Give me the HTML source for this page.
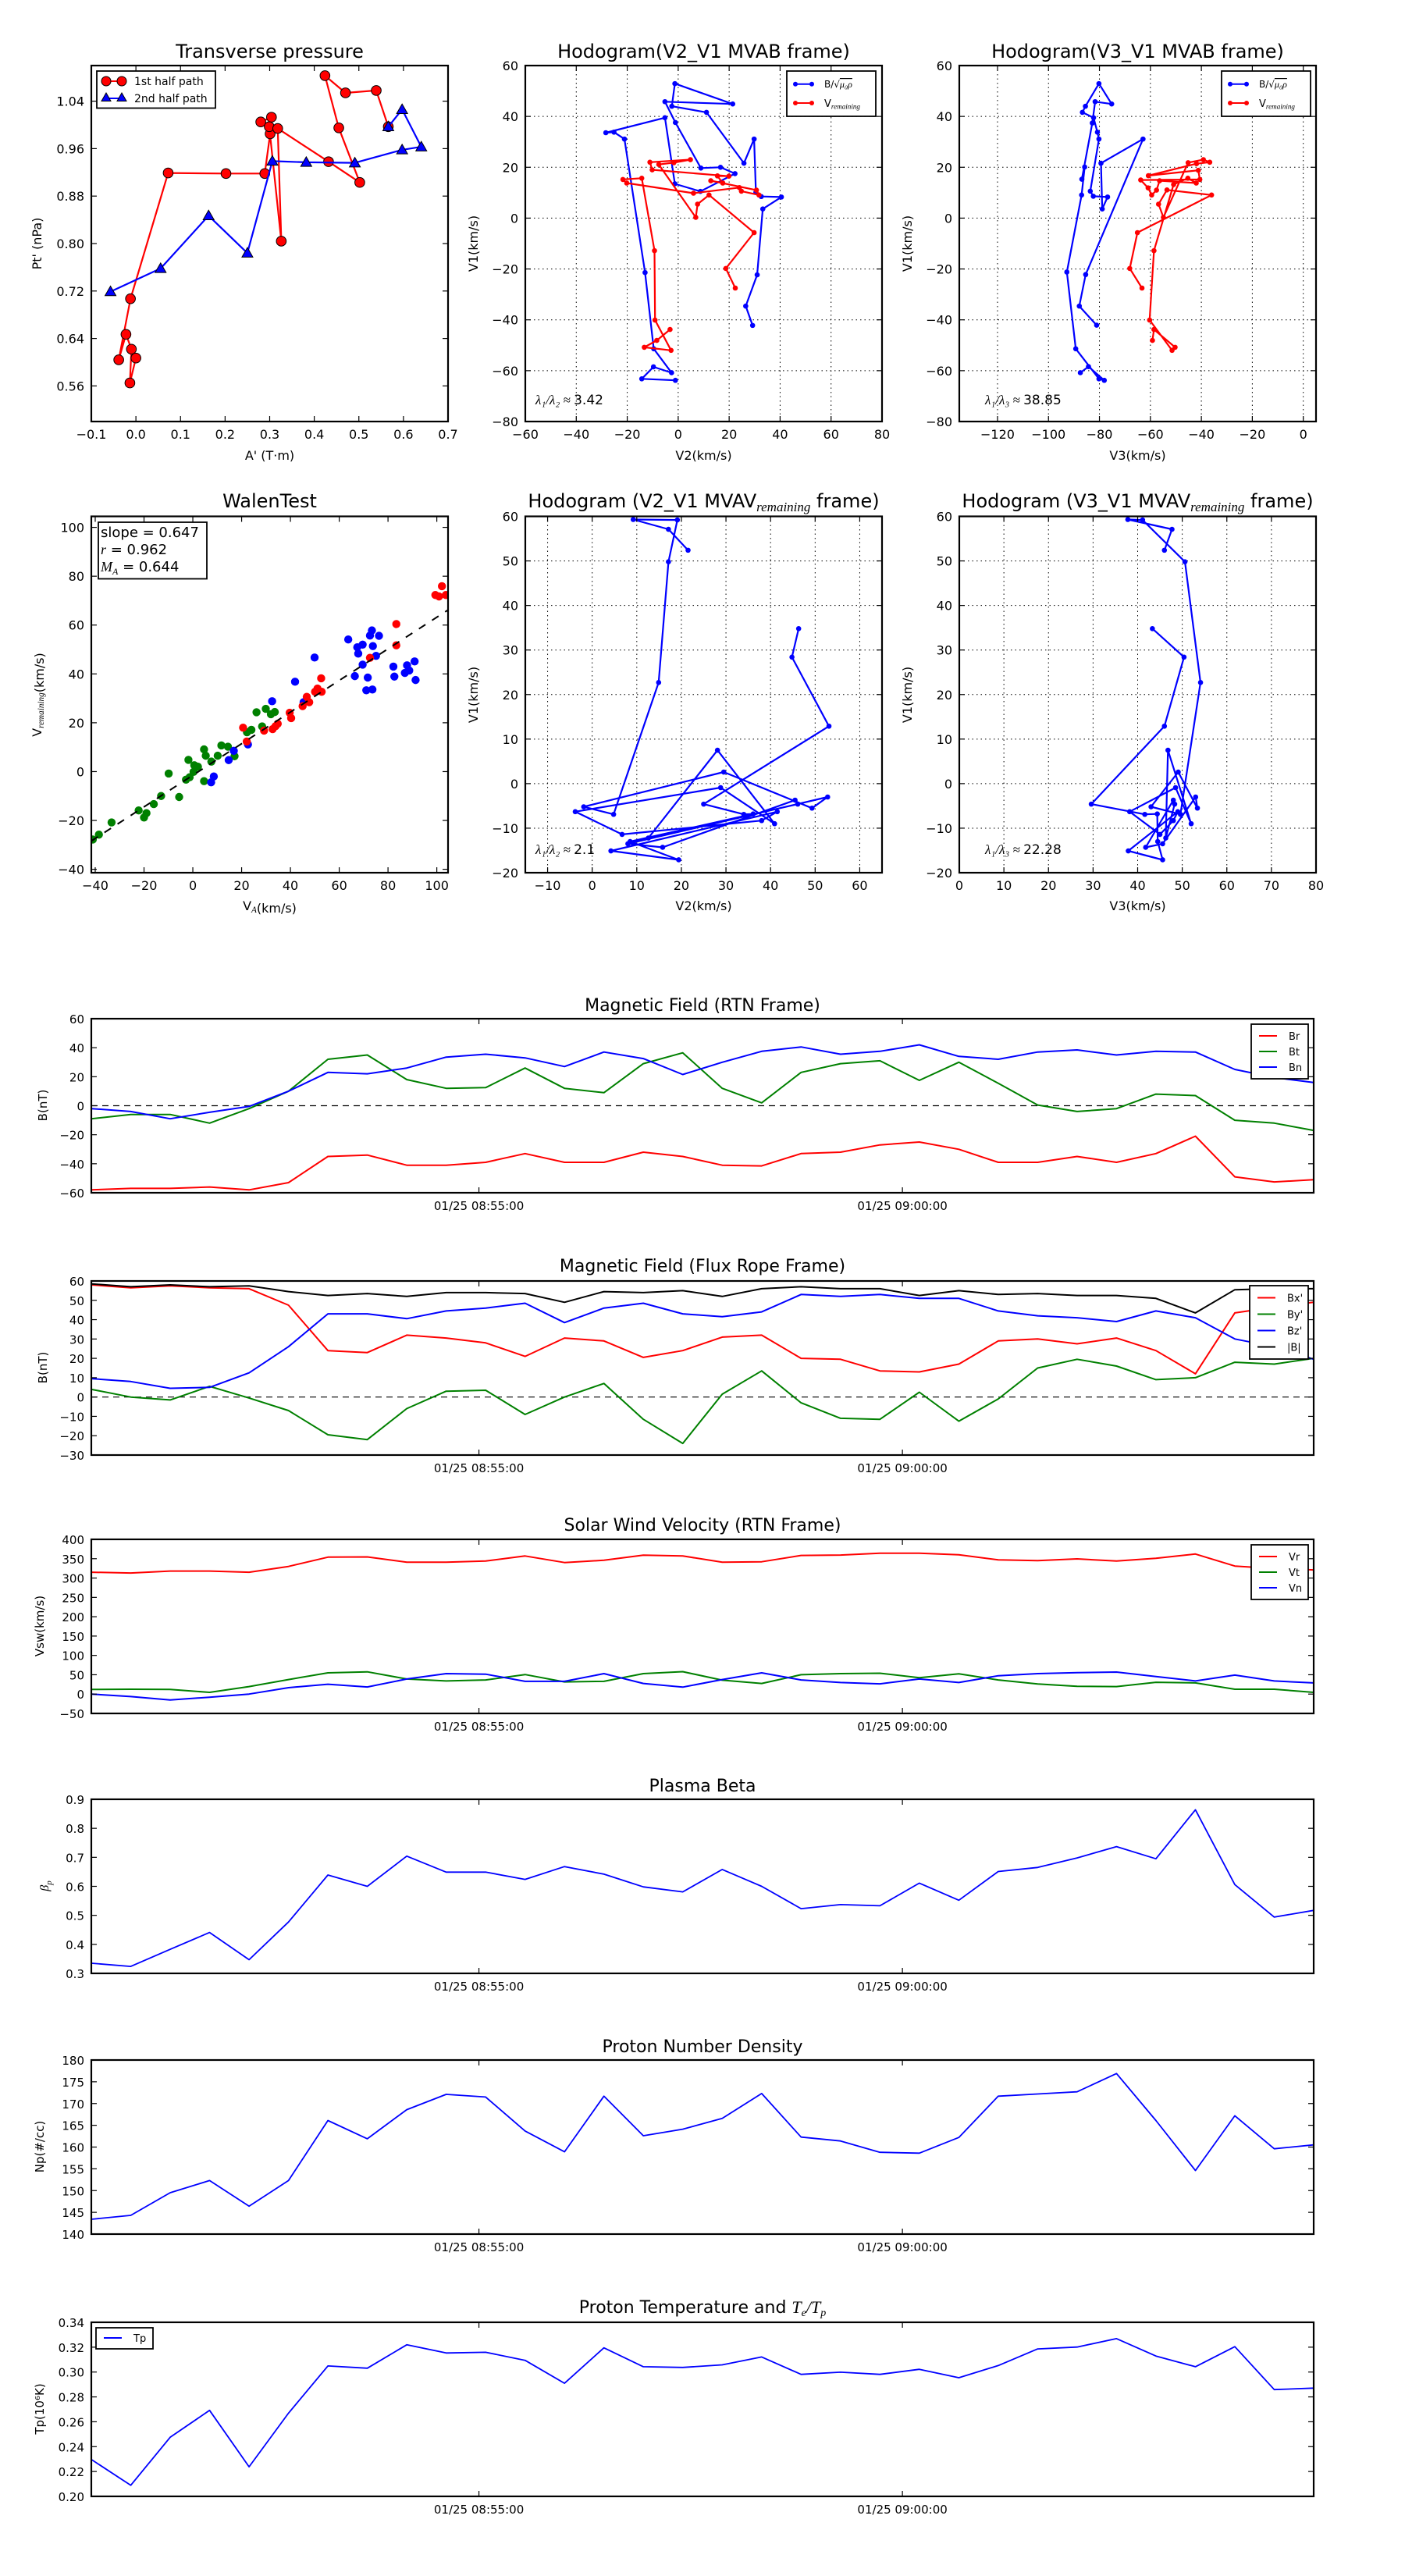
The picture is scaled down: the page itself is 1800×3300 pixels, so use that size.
<!DOCTYPE html>
<html><head><meta charset="utf-8"><style>
html,body{margin:0;padding:0;background:#fff;}
svg{display:block;font-family:"DejaVu Sans","Liberation Sans",sans-serif;}
</style></head><body>
<svg id="fig" xmlns="http://www.w3.org/2000/svg" width="1800" height="3300" viewBox="0 0 1800 3300">
<rect x="0" y="0" width="1800" height="3300" fill="#fff"/>
</svg>
<script>
// ===== Transverse pressure data =====
const tpRedA=[0.0,-0.0135,-0.0101,-0.0223,-0.0385,-0.0122,0.0723,0.202,0.289,0.301,0.304,0.280,0.299,0.326,0.318,0.432,0.502,0.455,0.424,0.470,0.539,0.566];
const tpRedP=[0.607,0.565,0.622,0.647,0.604,0.707,0.919,0.918,0.918,0.985,1.013,1.005,0.997,0.804,0.994,0.938,0.903,0.995,1.083,1.054,1.058,0.997];
const tpBlueA=[-0.057,0.0554,0.163,0.250,0.306,0.382,0.491,0.597,0.640,0.597,0.566];
const tpBlueP=[0.719,0.758,0.847,0.784,0.939,0.937,0.936,0.958,0.963,1.026,0.997];
// ===== Hodogram V2_V1 MVAB =====
const h1BV2=[29.2,26.5,31,33.2,40.5,32.6,30.5,29.8,25.8,11.1,-2.5,-1.3,21.4,-5.2,-1.1,8.9,16.6,22.3,8.7,-1.3,-5.2,-28.4,-25.2,-21.1,-13,-9.6,-2.6,-9.7,-14.3,-1.1];
const h1BV1=[-42.2,-34.6,-22.3,3.6,8.3,8.5,10.2,31.1,21.6,41.6,44.0,52.9,44.9,45.8,37.6,19.7,20.0,17.5,10.5,13.5,39.5,33.6,33.8,31.1,-21.4,-51.4,-60.8,-58.5,-63.2,-63.8];
const h1RV2=[22.4,18.7,29.8,12.1,7.6,6.9,-7.6,-1.7,4.8,-11.1,-10.2,19.9,15.4,17.5,12.8,30.7,31.7,24.8,24.0,6,-20.2,-21.7,-14.3,-9.3,-9.1,-2.8,-13.3,-8.4,-3.2];
const h1RV1=[-27.5,-19.8,-5.7,9.1,5.5,0.3,21.1,21.8,23.0,22.0,19.0,16.5,16.6,13.8,14.7,11.0,9.1,10.6,12.0,9.8,13.8,15.2,15.7,-12.8,-40.1,-52,-50.8,-48.1,-43.8];
// ===== Hodogram V3_V1 MVAB =====
const h2BV3=[-81.1,-87.9,-85.4,-62.9,-79.4,-78.9,-76.8,-82.4,-83.6,-80.2,-80.8,-82.3,-86.7,-85.5,-80.2,-75.2,-81.7,-82.8,-86.9,-85.8,-87.0,-92.8,-89.3,-80.2,-78.1,-84.3,-87.5];
const h2BV1=[-42.1,-34.6,-22.2,31.1,21.6,3.6,8.3,8.6,10.6,31.1,33.8,39.5,41.6,44.0,52.9,44.9,45.8,37.4,15.3,20.1,9.1,-21.2,-51.4,-63.2,-63.8,-58.4,-60.8];
const h2RV3=[-63.3,-68.1,-65.1,-36.0,-53.5,-56.8,-54.9,-45.2,-39.2,-36.7,-41.9,-60.8,-41.2,-40.6,-63.8,-60.9,-59.5,-57.6,-56.4,-42.0,-45.3,-50.9,-58.6,-60.3,-51.5,-50.3,-58.6,-59.2];
const h2RV1=[-27.5,-19.8,-5.7,9.1,11.1,5.5,0.3,21.8,23.0,22.0,21.4,16.7,18.8,15.2,15.0,11.9,9.1,11.0,14.7,13.8,15.7,13.2,-12.8,-40.1,-52,-50.8,-43.8,-48.1];
// ===== Walen test =====
const wGX=[-41.0,-38.5,-33.3,-22.2,-20.0,-19.0,-16.0,-13.0,-9.9,-5.6,-2.8,-1.3,-1.8,0.3,0.6,2.1,4.6,4.6,5.3,7.6,10.2,11.7,14.4,17.1,22.2,24.0,26.1,28.4,29.9,32.0,33.6];
const wGY=[-27.8,-25.8,-20.8,-15.9,-18.8,-17.0,-13.3,-10.0,-0.8,-10.4,-3.3,-2.3,4.8,-0.1,2.6,2.0,-3.9,9.1,6.5,4.1,6.5,10.7,10.2,6.3,16.1,17.1,24.3,18.5,25.7,23.5,24.4];
const wBX=[7.5,8.6,14.7,16.8,22.6,32.5,41.9,45.4,49.9,63.7,66.4,67.4,67.8,69.6,69.6,71.7,71.1,72.6,73.4,73.6,73.8,75.1,76.3,82.2,82.6,86.9,87.8,88.7,90.9,91.3];
const wBY=[-4.4,-2.0,4.7,8.5,11.1,28.8,36.8,28.4,46.7,54.1,39.1,50.9,48.3,52.0,43.8,38.5,33.3,55.7,57.8,33.6,51.4,47.4,55.6,43.0,38.9,40.4,43.5,41.4,45.1,37.5];
const wRX=[20.6,22.1,29.2,32.7,33.9,34.8,39.7,40.3,45.0,46.7,47.7,50.1,51.1,52.6,52.8,72.6,83.4,83.4,99.4,100.9,102.1,103.7];
const wRY=[18.0,12.3,16.8,17.4,18.6,19.6,24.1,21.9,26.8,30.6,28.4,32.7,34.0,38.2,32.7,46.6,60.4,51.7,72.3,71.7,75.9,72.3];
const wSlope=0.647, wIntercept=-1.5;
// ===== Hodograms MVAV remaining =====
const h3V2=[21.5,17.1,9.2,19.1,17.1,14.9,4.8,-1.9,29.5,49.3,52.8,8.0,15.8,45.5,46.1,12.6,28.1,40.9,28.8,-3.8,6.7,38.0,41.5,4.2,19.4,8.5,36.1,34.0,25.0,53.1,44.8,46.3];
const h3V1=[52.4,57.1,59.3,59.2,49.8,22.7,-6.9,-5.2,2.6,-5.5,-3.0,-13.5,-14.3,-3.7,-4.6,-12.2,7.5,-9.0,-0.9,-6.3,-11.4,-8.3,-6.3,-15.1,-17.1,-13.0,-6.8,-6.9,-4.6,12.9,28.4,34.8];
const h4V3=[46.0,47.7,37.8,41.1,50.6,54.1,49.6,43.0,49.1,53.4,53.0,45.6,41.8,48.0,48.3,46.3,46.8,52.0,48.5,38.2,45.0,48.0,49.0,37.9,45.6,44.5,44.4,41.6,29.6,46.0,50.4,43.3];
const h4V1=h3V1;
// ===== Time series =====
const tsTickPos=[9.83,20.57];
const tsTickLabels=['01/25 08:55:00','01/25 09:00:00'];
const Br=[-58,-57,-57,-56,-58,-53,-35,-34,-41,-41,-39,-33,-39,-39,-32,-35,-41,-41.5,-33,-32,-27,-25,-30,-39,-39,-35,-39,-33,-21,-49,-52.5,-51];
const Bt=[-9,-6,-6,-12,-2,10,32,35,18,12,12.5,26,12,9,29,36.5,12,2,23,29,31,17.5,30,15.5,0.5,-4,-2,8,7,-10,-12,-17];
const Bn=[-2,-4,-9,-4.5,-0.5,10,23,22,26,33.5,35.5,33,27,37,32.5,21.5,30,37.5,40.5,35.5,37.5,42,34,32,37,38.5,35,37.5,37,25,19.5,16];
const Bx=[58,56.5,57.5,56.5,56,47.5,24,23,32,30.5,28,21,30.5,29,20.5,24,31,32,20,19.5,13.5,13,17,29,30,27.5,30.5,24,12,43.5,46.5,49];
const By=[4,0,-1.5,5.5,-0.5,-7,-19.5,-22,-6,3,3.5,-9,0,7,-11.5,-24,1.5,13.5,-3,-11,-11.5,2.5,-12.5,-1,15,19.5,16,9,10,18,17,20];
const Bz=[9.5,8,4.5,5,12.5,26,43,43,40.5,44.5,46,48.5,38.5,46,48.5,43,41.5,44,53,52,53,51,51,44.5,42,41,39,44.5,41,30,26,19.5];
const Bmag=[58.5,57,58,57,57.5,54.5,52.5,53.5,52,54,54,53.5,49,54.5,54,55,52,56,57,56,56,52.5,55,53,53.5,52.5,52.5,51,43.5,55.5,56,56];
const Vr=[315,313,318,318,315,330,354,354.5,341,341,344,357,340,346,359,357,341,342,358.5,359.5,364,364,360,347,345,349.5,344,351,362,331,324.5,321];
const Vt=[12,12.5,12,4.5,19.5,37.5,55,57.5,39,34,36.5,50.5,31.5,33,53,58,36,27.5,50,53,54,42.5,52.5,36.5,26,20,19.5,30.5,29,12.5,12.5,4.5];
const Vn=[0,-6.5,-15,-8,0,16.5,25.5,18.5,39,53,51.5,33,33,53,27.5,18,37.5,55,36.5,30,26.5,39,30,47.5,53,55.5,57,45.5,34,49,34,29];
const beta=[0.335,0.324,0.383,0.441,0.347,0.477,0.639,0.600,0.704,0.649,0.649,0.624,0.668,0.642,0.598,0.581,0.658,0.600,0.523,0.537,0.533,0.611,0.552,0.651,0.665,0.698,0.737,0.695,0.864,0.606,0.494,0.517];
const Np=[143.4,144.3,149.5,152.3,146.4,152.3,166.1,161.9,168.6,172.1,171.5,163.7,158.9,171.7,162.6,164.1,166.6,172.3,162.3,161.4,158.8,158.6,162.2,171.7,172.2,172.7,176.9,166.1,154.6,167.2,159.6,160.5];
const Tp=[0.2297,0.2089,0.2475,0.2692,0.2238,0.2669,0.3049,0.3031,0.3219,0.3153,0.3159,0.3094,0.2910,0.3195,0.3043,0.3037,0.3058,0.3121,0.2981,0.2999,0.2981,0.3022,0.2954,0.3052,0.3186,0.3201,0.3269,0.3129,0.3043,0.3204,0.2859,0.2871];

const NS='http://www.w3.org/2000/svg';
const svg=document.getElementById('fig');
function mk(tag,attrs,parent){const e=document.createElementNS(NS,tag);for(const k in attrs)e.setAttribute(k,attrs[k]);(parent||svg).appendChild(e);return e;}
function fmtMinus(s){return String(s).replace('-','\u2212');}
let clipN=0;
function makeAxes(name,x0,y0,x1,y1,xmin,xmax,ymin,ymax){
  const g=mk('g',{});
  
  
  const sx=v=>x0+(v-xmin)/(xmax-xmin)*(x1-x0);
  const sy=v=>y1-(v-ymin)/(ymax-ymin)*(y1-y0);
  const id='clip'+(clipN++);
  const cp=mk('clipPath',{id:id},g);
  mk('rect',{x:x0,y:y0,width:x1-x0,height:y1-y0},cp);
  const grid=mk('g',{},g);
  const plot=mk('g',{'clip-path':'url(#'+id+')'},g);
  const deco=mk('g',{},g);
  return {g,grid,plot,deco,sx,sy,x0,y0,x1,y1};
}
function frame(ax){
  const r=mk('rect',{x:ax.x0,y:ax.y0,width:ax.x1-ax.x0,height:ax.y1-ax.y0,fill:'none',stroke:'#000','stroke-width':2.2},ax.deco);
  
  
}
function xTicks(ax,vals,labels,grid,fs){
  vals.forEach((v,i)=>{
    const x=ax.sx(v);
    mk('line',{x1:x,y1:ax.y1,x2:x,y2:ax.y1-7,stroke:'#000','stroke-width':1.2},ax.deco);
    mk('line',{x1:x,y1:ax.y0,x2:x,y2:ax.y0+7,stroke:'#000','stroke-width':1.2},ax.deco);
    if(grid) mk('line',{x1:x,y1:ax.y0,x2:x,y2:ax.y1,stroke:'#000','stroke-width':1,'stroke-dasharray':'1.5,4'},ax.grid);
    const t=mk('text',{x:x,y:ax.y1+22,'text-anchor':'middle','font-size':fs||16},ax.deco);
    t.textContent=labels[i];
    
    
  });
}
function yTicks(ax,vals,labels,grid,fs){
  vals.forEach((v,i)=>{
    const y=ax.sy(v);
    mk('line',{x1:ax.x0,y1:y,x2:ax.x0+7,y2:y,stroke:'#000','stroke-width':1.2},ax.deco);
    mk('line',{x1:ax.x1,y1:y,x2:ax.x1-7,y2:y,stroke:'#000','stroke-width':1.2},ax.deco);
    if(grid) mk('line',{x1:ax.x0,y1:y,x2:ax.x1,y2:y,stroke:'#000','stroke-width':1,'stroke-dasharray':'1.5,4'},ax.grid);
    const t=mk('text',{x:ax.x0-9,y:y+6,'text-anchor':'end','font-size':fs||16},ax.deco);
    t.textContent=labels[i];
    
    
  });
}
function rng(a,b,s){const r=[];for(let v=a;v<=b+1e-9;v+=s)r.push(Math.round(v*1e6)/1e6);return r;}
function path(ax,xs,ys,color,w,name){
  const pts=xs.map((v,i)=>ax.sx(v).toFixed(1)+','+ax.sy(ys[i]).toFixed(1)).join(' ');
  const p=mk('polyline',{points:pts,fill:'none',stroke:color,'stroke-width':w,'stroke-linejoin':'round'},ax.plot);
  
  
  return p;
}
function dots(ax,xs,ys,color,r,name,edge){
  xs.forEach((v,i)=>{
    const c=mk('circle',{cx:ax.sx(v),cy:ax.sy(ys[i]),r:r,fill:color,stroke:edge||'none','stroke-width':1},ax.plot);
    
    
  });
}
function tri(parent,x,y,s,name){
  const p=mk('polygon',{points:`${x},${y-s} ${x-s},${y+s*0.75} ${x+s},${y+s*0.75}`,fill:'#0000ff',stroke:'#000','stroke-width':1},parent);
  
  
}
function txt(x,y,s,fs,anchor,name,extra){
  const t=mk('text',Object.assign({x:x,y:y,'font-size':fs,'text-anchor':anchor||'middle'},extra||{}));
  t.textContent=s;
  
  
  return t;
}
function vlabel(x,y,s,fs,name){
  const t=mk('text',{x:0,y:0,'font-size':fs,'text-anchor':'middle',transform:`translate(${x},${y}) rotate(-90)`});
  t.textContent=s;
  
  
  return t;
}
function mathT(parent,main,sub,fs){
  const a=mk('tspan',{},parent);a.textContent=main;
  const b=mk('tspan',{'font-family':'Liberation Serif, serif','font-style':'italic','font-size':fs*0.7,dy:fs*0.2},parent);b.textContent=sub;
  const c=mk('tspan',{dy:-fs*0.2},parent);c.textContent='';
}

// ---------- Panel: Transverse pressure ----------
{
const ax=makeAxes('transverse-pressure-chart',117,84,574,540,-0.1,0.7,0.5,1.1);
xTicks(ax,rng(-0.1,0.7,0.1),rng(-0.1,0.7,0.1).map(v=>fmtMinus(v.toFixed(1))));
yTicks(ax,rng(0.56,1.04,0.08),rng(0.56,1.04,0.08).map(v=>v.toFixed(2)));
path(ax,tpRedA,tpRedP,'#ff0000',2.2,'first-half-path-line');
dots(ax,tpRedA,tpRedP,'#ff0000',6.3,'first-half-point','#000');
path(ax,tpBlueA,tpBlueP,'#0000ff',2.2,'second-half-path-line');
tpBlueA.forEach((v,i)=>tri(ax.plot,ax.sx(v),ax.sy(tpBlueP[i]),7,'second-half-point'));
frame(ax);
const lg=mk('g',{});


mk('rect',{x:124,y:91,width:152,height:47.5,fill:'#fff',stroke:'#000','stroke-width':1.8},lg);
mk('line',{x1:136,y1:104,x2:156,y2:104,stroke:'#ff0000','stroke-width':2},lg);
mk('circle',{cx:136,cy:104,r:6,fill:'#ff0000',stroke:'#000'},lg);
mk('circle',{cx:156,cy:104,r:6,fill:'#ff0000',stroke:'#000'},lg);
mk('line',{x1:136,y1:126,x2:156,y2:126,stroke:'#0000ff','stroke-width':2},lg);
tri(lg,136,125,6,'legend-marker');tri(lg,156,125,6,'legend-marker');
const l1=mk('text',{x:172,y:109,'font-size':14},lg);l1.textContent='1st half path';


const l2=mk('text',{x:172,y:131,'font-size':14},lg);l2.textContent='2nd half path';


txt(345.5,74,'Transverse pressure',24,'middle','chart-title');
txt(345.5,589,"A' (T\u00b7m)",16,'middle','x-axis-title');
vlabel(53,312,"Pt' (nPa)",16,'y-axis-title');
}
function hodoLegend(x,y){
  const lg=mk('g',{});
  
  
  mk('rect',{x:x,y:y,width:114,height:58,fill:'#fff',stroke:'#000','stroke-width':1.8},lg);
  mk('line',{x1:x+11,y1:y+16.7,x2:x+32,y2:y+16.7,stroke:'#0000ff','stroke-width':2},lg);
  mk('circle',{cx:x+11,cy:y+16.7,r:3,fill:'#0000ff'},lg);mk('circle',{cx:x+32,cy:y+16.7,r:3,fill:'#0000ff'},lg);
  mk('line',{x1:x+11,y1:y+41,x2:x+32,y2:y+41,stroke:'#ff0000','stroke-width':2},lg);
  mk('circle',{cx:x+11,cy:y+41,r:3,fill:'#ff0000'},lg);mk('circle',{cx:x+32,cy:y+41,r:3,fill:'#ff0000'},lg);
  const a=mk('text',{x:x+48,y:y+21,'font-size':12},lg);
  
  
  const a1=mk('tspan',{},a);a1.textContent='B/\u221a';
  const a2=mk('tspan',{'font-family':'Liberation Serif, serif','font-style':'italic','text-decoration':'overline'},a);a2.textContent='\u03bc\u2080\u03c1';
  const b=mk('text',{x:x+48,y:y+46,'font-size':13},lg);
  
  
  mathT(b,'V','remaining',13);
}
// ---------- Hodogram V2_V1 MVAB ----------
{
const ax=makeAxes('hodogram-v2-v1-mvab',673,84,1130,540,-60,80,-80,60);
xTicks(ax,rng(-60,80,20),rng(-60,80,20).map(fmtMinus),true);
yTicks(ax,rng(-80,60,20),rng(-80,60,20).map(fmtMinus),true);
path(ax,h1BV2,h1BV1,'#0000ff',2.2,'b-alfven-path');dots(ax,h1BV2,h1BV1,'#0000ff',3.3,'b-alfven-point');
path(ax,h1RV2,h1RV1,'#ff0000',2.2,'v-remaining-path');dots(ax,h1RV2,h1RV1,'#ff0000',3.3,'v-remaining-point');
frame(ax);hodoLegend(1008,91);
txt(901.5,74,'Hodogram(V2_V1 MVAB frame)',24,'middle','chart-title');
txt(901.5,589,'V2(km/s)',16,'middle','x-axis-title');
vlabel(612,312,'V1(km/s)',16,'y-axis-title');
const t=txt(686,518,'',17,'start','eigenvalue-ratio');
const t1=mk('tspan',{'font-family':'Liberation Serif, serif','font-style':'italic'},t);t1.textContent='\u03bb\u2081/\u03bb\u2082 \u2248 ';
const t2=mk('tspan',{},t);t2.textContent='3.42';
}
// ---------- Hodogram V3_V1 MVAB ----------
{
const ax=makeAxes('hodogram-v3-v1-mvab',1229,84,1686,540,-135,5,-80,60);
xTicks(ax,rng(-120,0,20),rng(-120,0,20).map(fmtMinus),true);
yTicks(ax,rng(-80,60,20),rng(-80,60,20).map(fmtMinus),true);
path(ax,h2BV3,h2BV1,'#0000ff',2.2,'b-alfven-path');dots(ax,h2BV3,h2BV1,'#0000ff',3.3,'b-alfven-point');
path(ax,h2RV3,h2RV1,'#ff0000',2.2,'v-remaining-path');dots(ax,h2RV3,h2RV1,'#ff0000',3.3,'v-remaining-point');
frame(ax);hodoLegend(1565,91);
txt(1457.5,74,'Hodogram(V3_V1 MVAB frame)',24,'middle','chart-title');
txt(1457.5,589,'V3(km/s)',16,'middle','x-axis-title');
vlabel(1168,312,'V1(km/s)',16,'y-axis-title');
const t=txt(1262,518,'',17,'start','eigenvalue-ratio');
const t1=mk('tspan',{'font-family':'Liberation Serif, serif','font-style':'italic'},t);t1.textContent='\u03bb\u2081/\u03bb\u2083 \u2248 ';
const t2=mk('tspan',{},t);t2.textContent='38.85';
}
// ---------- Walen test ----------
{
const ax=makeAxes('walen-test-chart',117,661.5,574,1118,-41.6,104.6,-41.4,104.5);
xTicks(ax,rng(-40,100,20),rng(-40,100,20).map(fmtMinus));
yTicks(ax,rng(-40,100,20),rng(-40,100,20).map(fmtMinus));
dots(ax,wGX,wGY,'#008000',5.2,'walen-point-green');
dots(ax,wBX,wBY,'#0000ff',5.2,'walen-point-blue');
dots(ax,wRX,wRY,'#ff0000',5.2,'walen-point-red');
const fx=[-41.6,104.6];
const ln=mk('line',{x1:ax.sx(fx[0]),y1:ax.sy(wSlope*fx[0]+wIntercept),x2:ax.sx(fx[1]),y2:ax.sy(wSlope*fx[1]+wIntercept),stroke:'#000','stroke-width':2,'stroke-dasharray':'10,10'},ax.plot);


frame(ax);
const bx=mk('rect',{x:126,y:669,width:139,height:72.5,fill:'#fff',stroke:'#000','stroke-width':1.8});


txt(129,688,'slope = 0.647',18,'start','slope-text');
const r=txt(129,710,'',18,'start','r-text');
const r1=mk('tspan',{'font-family':'Liberation Serif, serif','font-style':'italic'},r);r1.textContent='r';
const r2=mk('tspan',{},r);r2.textContent=' = 0.962';
const m=txt(129,732,'',18,'start','ma-text');
const m1=mk('tspan',{'font-family':'Liberation Serif, serif','font-style':'italic'},m);m1.textContent='M';
const m2=mk('tspan',{'font-family':'Liberation Serif, serif','font-style':'italic','font-size':12,dy:4},m);m2.textContent='A';
const m3=mk('tspan',{dy:-4},m);m3.textContent=' = 0.644';
txt(345.5,650,'WalenTest',24,'middle','chart-title');
const xl=txt(345.5,1166,'',16,'middle','x-axis-title');mathT(xl,'V','A',16);const xl2=mk('tspan',{},xl);xl2.textContent='(km/s)';
const yl=vlabel(53,890,'',16,'y-axis-title');mathT(yl,'V','remaining',16);const yl2=mk('tspan',{},yl);yl2.textContent='(km/s)';
}
// ---------- Hodogram MVAV remaining ----------
function mvavTitle(cx,s1,name){
  const t=txt(cx,650,'',24,'middle',name);
  const a=mk('tspan',{},t);a.textContent=s1;
  const b=mk('tspan',{'font-family':'Liberation Serif, serif','font-style':'italic','font-size':17,dy:5},t);b.textContent='remaining';
  const c=mk('tspan',{dy:-5},t);c.textContent=' frame)';
}
{
const ax=makeAxes('hodogram-v2-v1-mvav',673,661.5,1130,1118,-15,65,-20,60);
xTicks(ax,rng(-10,60,10),rng(-10,60,10).map(fmtMinus),true);
yTicks(ax,rng(-20,60,10),rng(-20,60,10).map(fmtMinus),true);
path(ax,h3V2,h3V1,'#0000ff',2.2,'b-alfven-path');dots(ax,h3V2,h3V1,'#0000ff',3.3,'b-alfven-point');
frame(ax);
mvavTitle(901.5,'Hodogram (V2_V1 MVAV','chart-title');
txt(901.5,1166,'V2(km/s)',16,'middle','x-axis-title');
vlabel(612,890,'V1(km/s)',16,'y-axis-title');
const t=txt(686,1094,'',17,'start','eigenvalue-ratio');
const t1=mk('tspan',{'font-family':'Liberation Serif, serif','font-style':'italic'},t);t1.textContent='\u03bb\u2081/\u03bb\u2082 \u2248 ';
const t2=mk('tspan',{},t);t2.textContent='2.1';
}
{
const ax=makeAxes('hodogram-v3-v1-mvav',1229,661.5,1686,1118,0,80,-20,60);
xTicks(ax,rng(0,80,10),rng(0,80,10).map(fmtMinus),true);
yTicks(ax,rng(-20,60,10),rng(-20,60,10).map(fmtMinus),true);
path(ax,h4V3,h4V1,'#0000ff',2.2,'b-alfven-path');dots(ax,h4V3,h4V1,'#0000ff',3.3,'b-alfven-point');
frame(ax);
mvavTitle(1457.5,'Hodogram (V3_V1 MVAV','chart-title');
txt(1457.5,1166,'V3(km/s)',16,'middle','x-axis-title');
vlabel(1168,890,'V1(km/s)',16,'y-axis-title');
const t=txt(1262,1094,'',17,'start','eigenvalue-ratio');
const t1=mk('tspan',{'font-family':'Liberation Serif, serif','font-style':'italic'},t);t1.textContent='\u03bb\u2081/\u03bb\u2083 \u2248 ';
const t2=mk('tspan',{},t);t2.textContent='22.28';
}
// ---------- Time series ----------
function tsPanel(name,top,ymin,ymax,yt,ylab,title,titleBase){
  const ax=makeAxes(name,117,top,1683,top+223,0,31,ymin,ymax);
  xTicks(ax,tsTickPos,tsTickLabels,false,15);
  yTicks(ax,yt,ylab,false,15);
  txt(900,titleBase,title,22,'middle','chart-title');
  return ax;
}
function tsLegend(x,y,w,names,colors,rowH){
  const lg=mk('g',{});
  
  
  mk('rect',{x:x,y:y,width:w,height:names.length*rowH+10,fill:'#fff',stroke:'#000','stroke-width':1.8},lg);
  names.forEach((n,i)=>{
    const cy=y+5+rowH*(i+0.5);
    mk('line',{x1:x+10,y1:cy,x2:x+33,y2:cy,stroke:colors[i],'stroke-width':2},lg);
    const t=mk('text',{x:x+48,y:cy+5,'font-size':13},lg);t.textContent=n;
    
    
  });
}
const idx=Br.map((_,i)=>i);
{
const ax=tsPanel('magnetic-field-rtn-chart',1305,-60,60,rng(-60,60,20),rng(-60,60,20).map(fmtMinus),'Magnetic Field (RTN Frame)',1295);
const z=mk('line',{x1:117,y1:ax.sy(0),x2:1683,y2:ax.sy(0),stroke:'#000','stroke-width':1.2,'stroke-dasharray':'8,6'},ax.plot);


path(ax,idx,Br,'#ff0000',2,'br-line');path(ax,idx,Bt,'#008000',2,'bt-line');path(ax,idx,Bn,'#0000ff',2,'bn-line');
frame(ax);tsLegend(1603,1312,73,['Br','Bt','Bn'],['#ff0000','#008000','#0000ff'],20);
vlabel(60,1416,'B(nT)',15,'y-axis-title');
}
{
const ax=tsPanel('magnetic-field-flux-rope-chart',1641,-30,60,rng(-30,60,10),rng(-30,60,10).map(fmtMinus),'Magnetic Field (Flux Rope Frame)',1629);
const z=mk('line',{x1:117,y1:ax.sy(0),x2:1683,y2:ax.sy(0),stroke:'#000','stroke-width':1.2,'stroke-dasharray':'8,6'},ax.plot);


path(ax,idx,Bx,'#ff0000',2,'bx-line');path(ax,idx,By,'#008000',2,'by-line');path(ax,idx,Bz,'#0000ff',2,'bz-line');path(ax,idx,Bmag,'#000000',2,'bmag-line');
frame(ax);tsLegend(1601,1647,75,["Bx'","By'","Bz'",'|B|'],['#ff0000','#008000','#0000ff','#000000'],21);
vlabel(60,1752,'B(nT)',15,'y-axis-title');
}
{
const ax=tsPanel('solar-wind-velocity-chart',1972,-50,400,rng(-50,400,50),rng(-50,400,50).map(fmtMinus),'Solar Wind Velocity (RTN Frame)',1961);
path(ax,idx,Vr,'#ff0000',2,'vr-line');path(ax,idx,Vt,'#008000',2,'vt-line');path(ax,idx,Vn,'#0000ff',2,'vn-line');
frame(ax);tsLegend(1603,1979,73,['Vr','Vt','Vn'],['#ff0000','#008000','#0000ff'],20);
vlabel(56,2083,'Vsw(km/s)',15,'y-axis-title');
}
{
const ax=tsPanel('plasma-beta-chart',2305,0.3,0.9,rng(0.3,0.9,0.1),rng(0.3,0.9,0.1).map(v=>v.toFixed(1)),'Plasma Beta',2295);
path(ax,idx,beta,'#0000ff',1.8,'beta-line');
frame(ax);
const t=vlabel(62,2416,'',16,'y-axis-title');
t.setAttribute('font-family','Liberation Serif, serif');t.setAttribute('font-style','italic');
const a=mk('tspan',{},t);a.textContent='\u03b2';const b=mk('tspan',{'font-size':11,dy:4},t);b.textContent='p';
}
{
const ax=tsPanel('proton-density-chart',2639,140,180,rng(140,180,5),rng(140,180,5).map(String),'Proton Number Density',2629);
path(ax,idx,Np,'#0000ff',1.8,'np-line');
frame(ax);
vlabel(56,2750,'Np(#/cc)',15,'y-axis-title');
}
{
const ax=tsPanel('proton-temperature-chart',2975,0.20,0.34,rng(0.20,0.34,0.02),rng(0.20,0.34,0.02).map(v=>v.toFixed(2)),'',2963);
path(ax,idx,Tp,'#0000ff',1.8,'tp-line');
frame(ax);
const lg=mk('g',{});


mk('rect',{x:123,y:2982,width:73,height:27,fill:'#fff',stroke:'#000','stroke-width':1.8},lg);
mk('line',{x1:133,y1:2995,x2:156,y2:2995,stroke:'#0000ff','stroke-width':2},lg);
const lt=mk('text',{x:171,y:3000,'font-size':13},lg);lt.textContent='Tp';


const t=txt(900,2963,'Proton Temperature and ',22,'middle','chart-title');
const a=mk('tspan',{'font-family':'Liberation Serif, serif','font-style':'italic'},t);a.textContent='T';
const b=mk('tspan',{'font-family':'Liberation Serif, serif','font-style':'italic','font-size':14,dy:4},t);b.textContent='e';
const c=mk('tspan',{'font-family':'Liberation Serif, serif','font-style':'italic',dy:-4},t);c.textContent='/T';
const d=mk('tspan',{'font-family':'Liberation Serif, serif','font-style':'italic','font-size':14,dy:4},t);d.textContent='p';
const yl=vlabel(56,3086,'Tp(10\u2076K)',15,'y-axis-title');
}
</script>
</body></html>
